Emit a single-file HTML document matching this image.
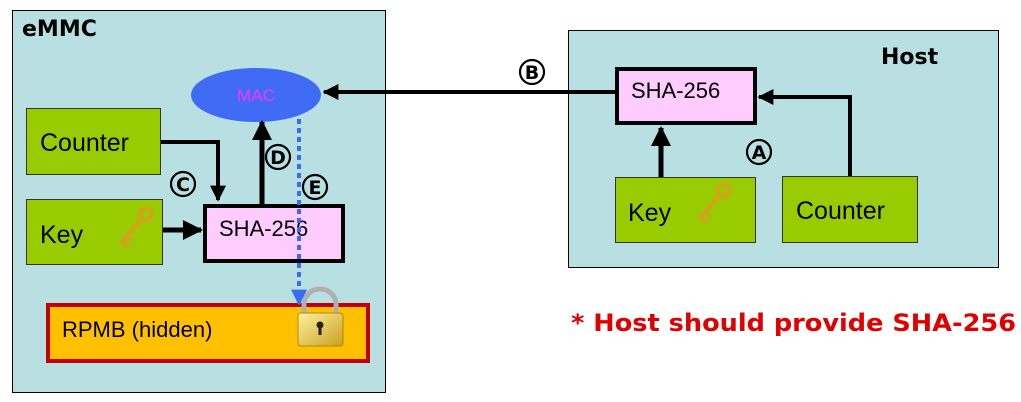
<!DOCTYPE html>
<html><head><style>
html,body{margin:0;padding:0;background:#fff;width:1021px;height:402px;overflow:hidden}
svg{display:block}
text{font-family:"Liberation Sans",sans-serif}
.b{font-family:"DejaVu Sans","Liberation Sans",sans-serif;font-weight:bold}
</style></head><body>
<svg width="1021" height="402" viewBox="0 0 1021 402" xmlns="http://www.w3.org/2000/svg">
<defs>
<marker id="ah" viewBox="0 0 10 10" refX="9" refY="5" markerWidth="4" markerHeight="4" orient="auto"><path d="M0,0L10,5L0,10z" fill="#000"/></marker>
<marker id="bh" viewBox="0 0 10 10" refX="9" refY="5" markerWidth="4" markerHeight="4" orient="auto"><path d="M0,0L10,5L0,10z" fill="#3a6cf0"/></marker>
<linearGradient id="lk" x1="0" y1="0" x2="1" y2="1"><stop offset="0" stop-color="#fff2a0"/><stop offset="1" stop-color="#c9a020"/></linearGradient>
<g id="key"><circle cx="18" cy="0" r="6" fill="none" stroke="#d9a020" stroke-width="3.5"/><rect x="-20" y="-2" width="32" height="4" fill="#d9a020"/><rect x="-20" y="0" width="4" height="8" fill="#d9a020"/><rect x="-13" y="0" width="4" height="6" fill="#d9a020"/></g>
<g id="circ"><circle cx="0" cy="0" r="12" fill="none" stroke="#000" stroke-width="2.2"/></g>
</defs>
<!-- eMMC -->
<rect x="12.5" y="10.5" width="373" height="382" fill="#b8e0e2" stroke="#000" stroke-width="1"/>
<text x="22" y="36" class="b" font-size="22" fill="#000">eMMC</text>
<!-- Host -->
<rect x="568.5" y="30.5" width="430" height="237" fill="#b8e0e2" stroke="#000" stroke-width="1"/>
<text x="881" y="64" class="b" font-size="22" fill="#000">Host</text>

<!-- eMMC boxes -->
<rect x="26.5" y="108.5" width="134" height="66" fill="#99cc00" stroke="#333" stroke-width="1"/>
<text x="40" y="151" font-size="25">Counter</text>
<rect x="26.5" y="199.5" width="136" height="65" fill="#99cc00" stroke="#333" stroke-width="1"/>
<text x="40" y="243" font-size="25">Key</text>
<use href="#key" transform="translate(134,228) rotate(-50)"/>
<rect x="205" y="206" width="138" height="55" fill="#ffccff" stroke="#000" stroke-width="4"/>
<text x="219" y="236" font-size="22">SHA-256</text>
<ellipse cx="256" cy="95" rx="65" ry="27" fill="#3f6bf5"/>
<text x="256" y="101" font-size="17" fill="#ff33ff" text-anchor="middle">MAC</text>
<rect x="48" y="305" width="320" height="56" fill="#ffc000" stroke="#c00000" stroke-width="4"/>
<text x="62" y="337" font-size="22">RPMB (hidden)</text>
<!-- lock -->
<path d="M304,314 v-10 a16,15 0 0 1 32,0 v10" fill="none" stroke="#b0b0b0" stroke-width="5"/>
<rect x="298" y="313" width="45" height="33" rx="3" fill="url(#lk)" stroke="#b08a10" stroke-width="1"/>
<circle cx="320" cy="325" r="3.5" fill="#222"/><rect x="318.5" y="326" width="3" height="9" fill="#222"/>

<!-- eMMC arrows -->
<polyline points="161,142 218,142 218,200" fill="none" stroke="#000" stroke-width="4" marker-end="url(#ah)"/>
<line x1="163" y1="230" x2="201" y2="230" stroke="#000" stroke-width="5" marker-end="url(#ah)"/>
<line x1="262" y1="204" x2="262" y2="122" stroke="#000" stroke-width="5" marker-end="url(#ah)"/>
<line x1="299" y1="119" x2="299" y2="304" stroke="#3a6cf0" stroke-width="4" stroke-dasharray="5,4" marker-end="url(#bh)"/>
<use href="#circ" x="183" y="184"/><text x="183" y="191" class="b" font-size="19" text-anchor="middle">C</text>
<use href="#circ" x="278" y="157"/><text x="278" y="164" class="b" font-size="19" text-anchor="middle">D</text>
<use href="#circ" x="315" y="187"/><text x="315" y="194" class="b" font-size="19" text-anchor="middle">E</text>

<!-- Host boxes -->
<rect x="617" y="69" width="138" height="54" fill="#ffccff" stroke="#000" stroke-width="4"/>
<text x="631" y="98" font-size="22">SHA-256</text>
<rect x="615.5" y="177.5" width="140" height="65" fill="#99cc00" stroke="#333" stroke-width="1"/>
<text x="628" y="221" font-size="25">Key</text>
<use href="#key" transform="translate(712,204) rotate(-50)"/>
<rect x="782.5" y="176.5" width="135" height="66" fill="#99cc00" stroke="#333" stroke-width="1"/>
<text x="796" y="219" font-size="25">Counter</text>
<!-- host arrows -->
<line x1="615" y1="92" x2="324" y2="92" stroke="#000" stroke-width="4" marker-end="url(#ah)"/>
<polyline points="850,176 850,97 759,97" fill="none" stroke="#000" stroke-width="4" marker-end="url(#ah)"/>
<line x1="661" y1="177" x2="661" y2="128" stroke="#000" stroke-width="5" marker-end="url(#ah)"/>
<use href="#circ" x="532" y="72"/><text x="532" y="79" class="b" font-size="19" text-anchor="middle">B</text>
<use href="#circ" x="759" y="152"/><text x="759" y="159" class="b" font-size="19" text-anchor="middle">A</text>

<text x="571" y="331" class="b" font-size="24" fill="#e00000" textLength="445" lengthAdjust="spacingAndGlyphs">* Host should provide SHA-256</text>
</svg>
</body></html>
